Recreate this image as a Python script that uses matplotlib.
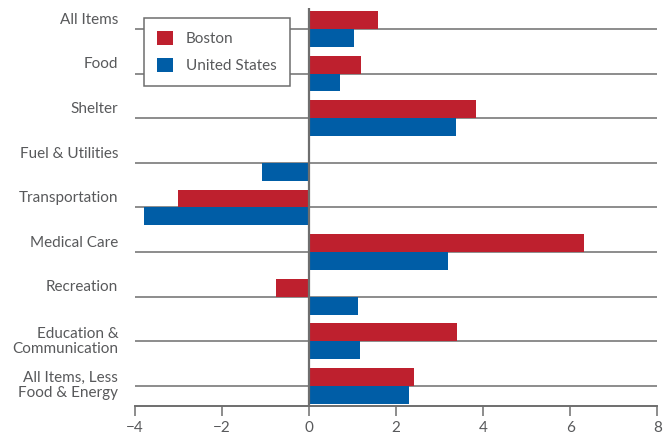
import numpy as np
import matplotlib
matplotlib.use("Agg")
import matplotlib.pyplot as plt

categories = ["All Items", "Food", "Shelter", "Fuel & Utilities", "Transportation",
              "Medical Care", "Recreation", "Education &\nCommunication",
              "All Items, Less\nFood & Energy"]
boston = [1.58, 1.20, 3.83, 0.0, -3.02, 6.32, -0.77, 3.40, 2.42]
united_states = [1.03, 0.71, 3.37, -1.09, -3.80, 3.18, 1.13, 1.18, 2.29]
x_ticks = [-4, -2, 0, 2, 4, 6, 8]

red = "#be202e"
blue = "#005da6"
grey = "#6e6e6e"
text_grey = "#58595b"

plt.rcParams["font.family"] = ["Lato", "DejaVu Sans"]
plt.rcParams["font.size"] = 11

fig = plt.figure(figsize=(6.68, 4.36), dpi=100)
ax = fig.add_axes([0.2021, 0.0688, 0.7819, 0.9129])

pos = np.arange(len(categories))
h = 0.4

# separator line at every category, bars sit on either side of it
ax.hlines(pos, x_ticks[0], x_ticks[-1], color=grey, lw=1.1, zorder=1)
ax.barh(pos - h / 2, boston, height=h, color=red, label="Boston", zorder=2)
ax.barh(pos + h / 2, united_states, height=h, color=blue, label="United States", zorder=2)
ax.axvline(0, color=grey, lw=1.6, zorder=3)

ax.set_xlim(x_ticks[0], x_ticks[-1])
ax.set_ylim(len(categories) - 1 + 0.45, -0.47)
ax.set_xticks(x_ticks)
ax.set_xticklabels([str(t).replace("-", "\u2212") for t in x_ticks])

# single-line labels sit just above their line, two-line ones are centred on it
label_pos = [p - 0.05 if "\n" in c else p - 0.24 for p, c in zip(pos, categories)]
ax.set_yticks(label_pos)
ax.set_yticklabels(categories, linespacing=1.1)
ax.tick_params(axis="y", length=0, pad=12, colors=text_grey)
ax.tick_params(axis="x", direction="out", length=7.5, width=1.1, color=grey,
               pad=3, colors=text_grey)
ax.tick_params(axis="x", color=grey)

for side in ["top", "right", "left"]:
    ax.spines[side].set_visible(False)
ax.spines["bottom"].set_color(grey)
ax.spines["bottom"].set_linewidth(1.4)

leg = ax.legend(loc="upper left", bbox_to_anchor=(0.017, 0.975), frameon=True,
                fancybox=False, framealpha=1, edgecolor=grey, handlelength=1.05,
                handleheight=1.05, handletextpad=0.85, borderpad=0.85,
                labelspacing=0.75, borderaxespad=0)
leg.get_frame().set_linewidth(1.1)
for t in leg.get_texts():
    t.set_color(text_grey)

fig.savefig("out.png", dpi=100)
